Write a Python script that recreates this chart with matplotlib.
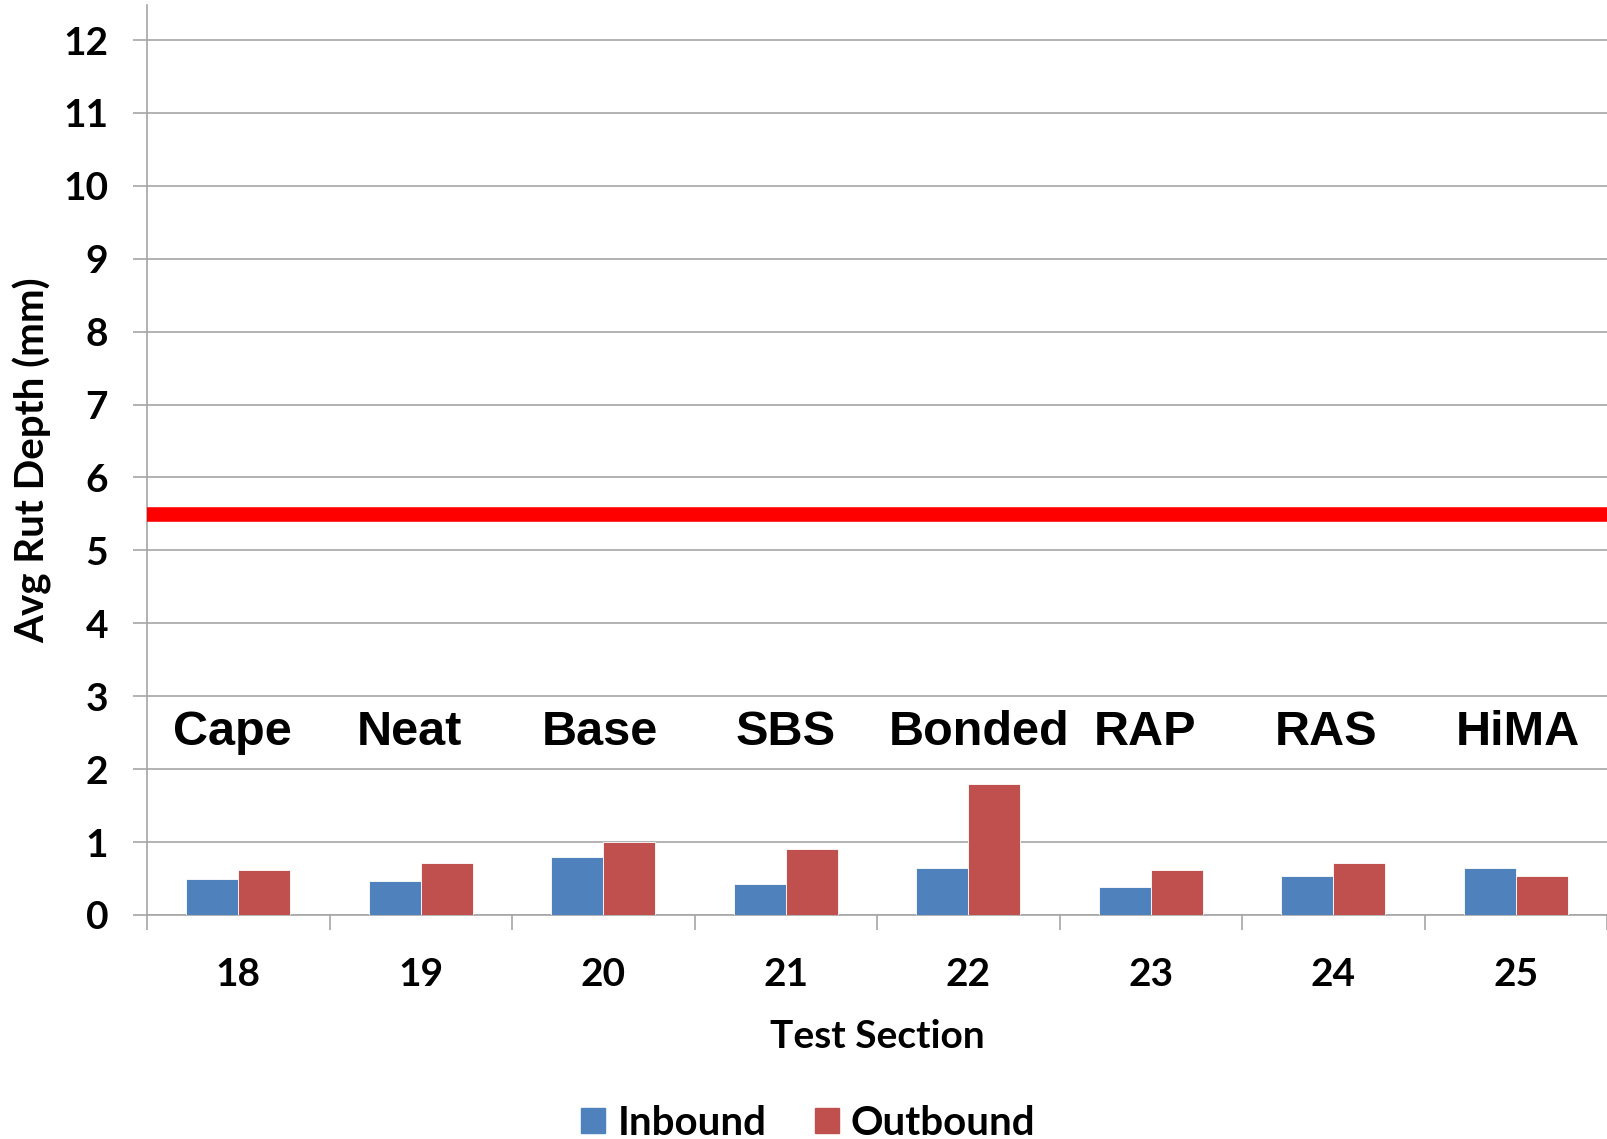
import matplotlib
matplotlib.use("Agg")
import matplotlib.pyplot as plt
import matplotlib.patches as mpatches
import numpy as np

# data
sections = ["18", "19", "20", "21", "22", "23", "24", "25"]
mix_names = ["Cape", "Neat", "Base", "SBS", "Bonded", "RAP", "RAS", "HiMA"]
inbound = [0.49, 0.46, 0.80, 0.42, 0.65, 0.38, 0.54, 0.65]
outbound = [0.62, 0.71, 1.00, 0.90, 1.80, 0.62, 0.71, 0.54]
threshold = 5.5
label_height = 2.5

IN_COLOR = "#4f81bd"
OUT_COLOR = "#c0504d"
GRID = "#a6a6a6"
FONT = "Lato"

fig = plt.figure(figsize=(16.07, 11.39), dpi=100)
ax = fig.add_axes([0.0915, 0.1967, 0.9085, 0.7989])

xs = np.arange(len(sections))
w = 0.285
ax.bar(xs - w / 2, inbound, w, color=IN_COLOR, edgecolor="white", linewidth=0.6, zorder=3)
ax.bar(xs + w / 2, outbound, w, color=OUT_COLOR, edgecolor="white", linewidth=0.6, zorder=3)

ax.axhline(threshold, color="#ff0000", linewidth=10.5, zorder=4)

# mix labels written inside the plot, slightly nudged like the original slide
nudge = [-0.03, -0.06, -0.02, 0.0, 0.06, -0.03, -0.04, 0.01]
for x, name, dx in zip(xs, mix_names, nudge):
    ax.text(x + dx, label_height, name, ha="center", va="center", fontsize=35,
            fontweight="bold", family="Liberation Sans", zorder=5)

ax.set_xlim(-0.5, len(sections) - 0.5)
ax.set_ylim(0, 12.48)
ax.set_yticks(range(0, 13))
ax.set_yticklabels([str(v) for v in range(0, 13)], fontsize=28,
                   fontweight="bold", family=FONT)
ax.set_xticks(xs)
ax.set_xticklabels(sections, fontsize=28, fontweight="bold", family=FONT)
ax.set_xticks(np.arange(-0.5, len(sections)), minor=True)
ax.tick_params(axis="x", which="major", length=0, pad=30)
ax.tick_params(axis="x", which="minor", length=11, width=1.2, color=GRID, direction="out")
ax.tick_params(axis="y", length=10, width=1.2, color=GRID, pad=18)

ax.grid(axis="y", color=GRID, linewidth=1.2, zorder=0)
ax.set_axisbelow(True)
for s in ("top", "right"):
    ax.spines[s].set_visible(False)
for s in ("left", "bottom"):
    ax.spines[s].set_color(GRID)
    ax.spines[s].set_linewidth(1.2)

ax.set_ylabel("Avg Rut Depth (mm)", fontsize=29, fontweight="bold", family=FONT, labelpad=8)
ax.set_xlabel("Test Section", fontsize=28, fontweight="bold", family=FONT, labelpad=20)

handles = [mpatches.Patch(color=IN_COLOR, label="Inbound"),
           mpatches.Patch(color=OUT_COLOR, label="Outbound")]
fig.legend(handles=handles, loc="center", bbox_to_anchor=(0.503, 0.014), ncol=2,
           frameon=False, prop={"family": FONT, "weight": "bold", "size": 29},
           handlelength=0.6, handleheight=0.6, handletextpad=0.3, columnspacing=1.2,
           borderpad=0)

fig.savefig("out.png", dpi=100, facecolor="white")
